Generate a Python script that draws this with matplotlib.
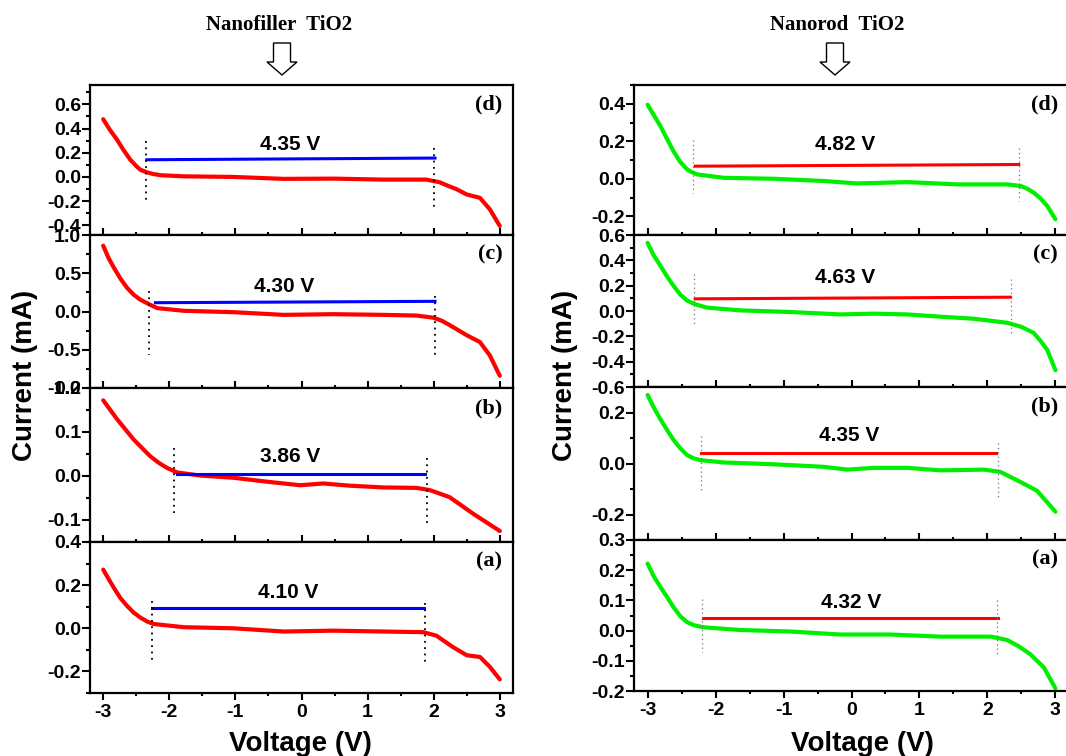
import matplotlib.pyplot as plt
from matplotlib.patches import FancyArrow
from matplotlib.ticker import MultipleLocator

plt.rcParams['font.family'] = ['Liberation Sans', 'DejaVu Sans']
plt.rcParams['font.weight'] = 'bold'
plt.rcParams['axes.unicode_minus'] = False

# ---- Nanofiller TiO2 (left column, red curves) ----
nf_d_v = [-3.0, -2.9, -2.79, -2.69, -2.59, -2.50, -2.44, -2.34, -2.24, -2.13, -1.78, -1.03, -0.27, 0.48, 1.24, 1.89, 2.09, 2.20, 2.34, 2.50, 2.70, 2.85, 3.0]
nf_d_i = [0.477, 0.39, 0.307, 0.22, 0.142, 0.09, 0.06, 0.038, 0.024, 0.014, 0.005, 0.0, -0.016, -0.014, -0.022, -0.022, -0.044, -0.07, -0.10, -0.145, -0.173, -0.268, -0.405]
nf_c_v = [-3.0, -2.92, -2.84, -2.74, -2.64, -2.54, -2.44, -2.29, -2.18, -1.78, -1.03, -0.27, 0.48, 1.24, 1.74, 1.99, 2.12, 2.24, 2.50, 2.70, 2.85, 3.0]
nf_c_i = [0.86, 0.70, 0.575, 0.43, 0.31, 0.22, 0.155, 0.088, 0.044, 0.009, -0.009, -0.044, -0.035, -0.044, -0.053, -0.08, -0.12, -0.177, -0.31, -0.40, -0.575, -0.84]
nf_b_v = [-3.0, -2.79, -2.54, -2.29, -2.16, -2.03, -1.88, -1.53, -1.03, -0.52, -0.02, 0.33, 0.73, 1.24, 1.74, 1.94, 2.24, 2.60, 3.0]
nf_b_i = [0.172, 0.129, 0.083, 0.045, 0.03, 0.018, 0.008, 0.001, -0.004, -0.013, -0.021, -0.017, -0.022, -0.026, -0.027, -0.032, -0.048, -0.086, -0.125]
nf_a_v = [-3.0, -2.94, -2.84, -2.74, -2.64, -2.54, -2.44, -2.34, -2.24, -1.78, -1.03, -0.27, 0.48, 1.24, 1.84, 2.04, 2.29, 2.50, 2.70, 2.85, 3.0]
nf_a_i = [0.272, 0.24, 0.188, 0.14, 0.104, 0.073, 0.05, 0.032, 0.02, 0.005, 0.0, -0.015, -0.011, -0.015, -0.018, -0.034, -0.087, -0.125, -0.133, -0.179, -0.237]

# ---- Nanorod TiO2 (right column, green curves) ----
nr_d_v = [-3.0, -2.91, -2.81, -2.71, -2.62, -2.52, -2.42, -2.35, -2.27, -1.88, -1.15, -0.41, 0.08, 0.82, 1.55, 2.29, 2.49, 2.58, 2.68, 2.78, 2.88, 3.0]
nr_d_i = [0.395, 0.34, 0.28, 0.21, 0.147, 0.09, 0.05, 0.035, 0.023, 0.005, 0.0, -0.012, -0.025, -0.018, -0.03, -0.03, -0.039, -0.052, -0.074, -0.105, -0.145, -0.216]
nr_c_v = [-3.0, -2.91, -2.81, -2.71, -2.62, -2.52, -2.42, -2.32, -2.13, -1.64, -0.9, -0.16, 0.33, 0.82, 1.31, 1.80, 2.29, 2.50, 2.68, 2.78, 2.88, 3.0]
nr_c_i = [0.538, 0.44, 0.356, 0.27, 0.2, 0.13, 0.083, 0.057, 0.027, 0.005, -0.008, -0.027, -0.021, -0.027, -0.045, -0.061, -0.093, -0.125, -0.173, -0.235, -0.307, -0.467]
nr_b_v = [-3.0, -2.91, -2.81, -2.71, -2.62, -2.52, -2.42, -2.32, -2.22, -1.88, -1.15, -0.41, -0.06, 0.33, 0.82, 1.31, 1.95, 2.19, 2.49, 2.73, 3.0]
nr_b_i = [0.269, 0.22, 0.173, 0.13, 0.093, 0.06, 0.033, 0.02, 0.013, 0.004, -0.003, -0.013, -0.024, -0.017, -0.017, -0.027, -0.024, -0.033, -0.073, -0.107, -0.189]
nr_a_v = [-3.0, -2.91, -2.81, -2.71, -2.62, -2.52, -2.42, -2.32, -2.18, -1.64, -0.9, -0.16, 0.57, 1.31, 2.05, 2.29, 2.46, 2.63, 2.83, 3.0]
nr_a_i = [0.222, 0.18, 0.144, 0.11, 0.078, 0.048, 0.028, 0.018, 0.011, 0.002, -0.003, -0.013, -0.013, -0.02, -0.02, -0.031, -0.052, -0.078, -0.122, -0.191]

# stability window: (v_start, v_end, i_start, i_end)
nf_windows = {'d': (-2.34, 2.02, 0.142, 0.156), 'c': (-2.21, 2.02, 0.115, 0.133),
              'b': (-1.88, 1.87, 0.005, 0.005), 'a': (-2.26, 1.85, 0.092, 0.092)}
nr_windows = {'d': (-2.30, 2.46, 0.067, 0.076), 'c': (-2.30, 2.34, 0.096, 0.109),
              'b': (-2.22, 2.12, 0.04, 0.04), 'a': (-2.19, 2.15, 0.042, 0.042)}
# dotted markers: (v, i_top, i_bottom) for left and right edges
nf_marks = {'d': [(-2.35, 0.293, -0.227), (2.0, 0.238, -0.268)],
            'c': [(-2.30, 0.265, -0.575), (2.02, 0.20, -0.62)],
            'b': [(-1.93, 0.064, -0.086), (1.90, 0.041, -0.109)],
            'a': [(-2.26, 0.127, -0.163), (1.87, 0.119, -0.171)]}
nr_marks = {'d': [(-2.33, 0.209, -0.074), (2.47, 0.165, -0.119)],
            'c': [(-2.32, 0.29, -0.12), (2.35, 0.25, -0.20)],
            'b': [(-2.22, 0.107, -0.107), (2.15, 0.08, -0.133)],
            'a': [(-2.20, 0.106, -0.072), (2.14, 0.10, -0.078)]}
nf_labels = {'d': ('4.35 V', -0.17, 0.266), 'c': ('4.30 V', -0.27, 0.33),
             'b': ('3.86 V', -0.17, 0.045), 'a': ('4.10 V', -0.20, 0.165)}
nr_labels = {'d': ('4.82 V', -0.09, 0.18), 'c': ('4.63 V', -0.09, 0.265),
             'b': ('4.35 V', -0.04, 0.109), 'a': ('4.32 V', 0.0, 0.094)}

# y limits and tick steps (major, minor)
nf_ylim = {'d': (-0.48, 0.76, 0.2, 0.1), 'c': (-1.0, 1.0, 0.5, 0.25),
           'b': (-0.15, 0.2, 0.1, 0.05), 'a': (-0.3, 0.4, 0.2, 0.1)}
nr_ylim = {'d': (-0.3, 0.5, 0.2, 0.1), 'c': (-0.6, 0.6, 0.2, 0.1),
           'b': (-0.3, 0.3, 0.2, 0.1), 'a': (-0.2, 0.3, 0.1, 0.05)}

W, H = 1066, 756
fig = plt.figure(figsize=(W / 100, H / 100), dpi=100)


def rect(x0, x1, y0, y1):
    return [x0 / W, (H - y1) / H, (x1 - x0) / W, (y1 - y0) / H]


def panel(box, v, i, color, wcolor, win, marks, lab, ylim, tag, bottom, dotcol, dotlw):
    ax = fig.add_axes(rect(*box))
    ax.plot(v, i, color=color, lw=3, solid_joinstyle='round', solid_capstyle='round')
    ax.plot([win[0], win[1]], [win[2], win[3]], color=wcolor, lw=2.2)
    for mv, top, bot in marks:
        ax.plot([mv, mv], [top, bot], color=dotcol, lw=dotlw, ls=(0, (1, 2.5)))
    ax.text(lab[1], lab[2], lab[0], ha='center', va='center', fontsize=15, fontweight='bold')
    ax.text(0.975, 0.87, '(' + tag + ')', transform=ax.transAxes, ha='right', va='center',
            fontsize=16, fontweight='bold', family='Liberation Serif')
    ax.set_xlim(-3.2, 3.2)
    ax.set_ylim(ylim[0], ylim[1])
    ax.xaxis.set_major_locator(MultipleLocator(1))
    ax.xaxis.set_minor_locator(MultipleLocator(0.5))
    ax.yaxis.set_major_locator(MultipleLocator(ylim[2]))
    ax.yaxis.set_minor_locator(MultipleLocator(ylim[3]))
    for s in ax.spines.values():
        s.set_linewidth(1.6)
    ax.tick_params(axis='y', which='major', direction='out', length=5.5, width=1.5, pad=1, labelsize=14)
    ax.tick_params(axis='y', which='minor', direction='out', length=3, width=1.5)
    ax.tick_params(axis='x', which='major', direction='out' if bottom else 'in', length=5, width=1.5,
                   pad=3, labelsize=14, labelbottom=bottom)
    ax.tick_params(axis='x', which='minor', direction='out' if bottom else 'in', length=2.5, width=1.5)
    ax.yaxis.set_major_formatter(plt.FormatStrFormatter('%.1f'))
    for t in ax.get_yticklabels() + ax.get_xticklabels():
        t.set_fontweight('bold')
    return ax


nf_data = {'d': (nf_d_v, nf_d_i), 'c': (nf_c_v, nf_c_i), 'b': (nf_b_v, nf_b_i), 'a': (nf_a_v, nf_a_i)}
nr_data = {'d': (nr_d_v, nr_d_i), 'c': (nr_c_v, nr_c_i), 'b': (nr_b_v, nr_b_i), 'a': (nr_a_v, nr_a_i)}

left_rows = {'d': (85, 235), 'c': (235, 388), 'b': (388, 542), 'a': (542, 693)}
right_rows = {'d': (85, 235), 'c': (235, 387), 'b': (387, 540), 'a': (540, 691)}

for tag in ['d', 'c', 'b', 'a']:
    y0, y1 = left_rows[tag]
    panel((90, 513, y0, y1), *nf_data[tag], '#ff0000', '#0000ff', nf_windows[tag], nf_marks[tag],
          nf_labels[tag], nf_ylim[tag], tag, tag == 'a', 'black', 1.3)
    y0, y1 = right_rows[tag]
    panel((634, 1069, y0, y1), *nr_data[tag], '#00ee00', '#ff0000', nr_windows[tag], nr_marks[tag],
          nr_labels[tag], nr_ylim[tag], tag, tag == 'a', '0.45', 0.9)

# axis labels
fig.text(25 / W, 1 - 375 / H, 'Current (mA)', rotation=90, ha='center', va='center', fontsize=20, fontweight='bold')
fig.text(565 / W, 1 - 375 / H, 'Current (mA)', rotation=90, ha='center', va='center', fontsize=20, fontweight='bold')
fig.text(300 / W, 1 - 744 / H, 'Voltage (V)', ha='center', va='center', fontsize=20, fontweight='bold')
fig.text(862 / W, 1 - 744 / H, 'Voltage (V)', ha='center', va='center', fontsize=20, fontweight='bold')

# column titles with hollow arrows
fig.text(279 / W, 1 - 25 / H, 'Nanofiller  TiO2', ha='center', va='center', fontsize=15,
         fontweight='bold', family='Liberation Serif')
fig.text(837 / W, 1 - 25 / H, 'Nanorod  TiO2', ha='center', va='center', fontsize=15,
         fontweight='bold', family='Liberation Serif')
for cx in [282, 835]:
    fig.add_artist(FancyArrow(cx / 100, (H - 43) / 100, 0, -0.32, width=0.17, head_width=0.30,
                              head_length=0.13, length_includes_head=True, fc='white', ec='black',
                              lw=1, transform=fig.dpi_scale_trans))

fig.savefig('out.png', dpi=100)
